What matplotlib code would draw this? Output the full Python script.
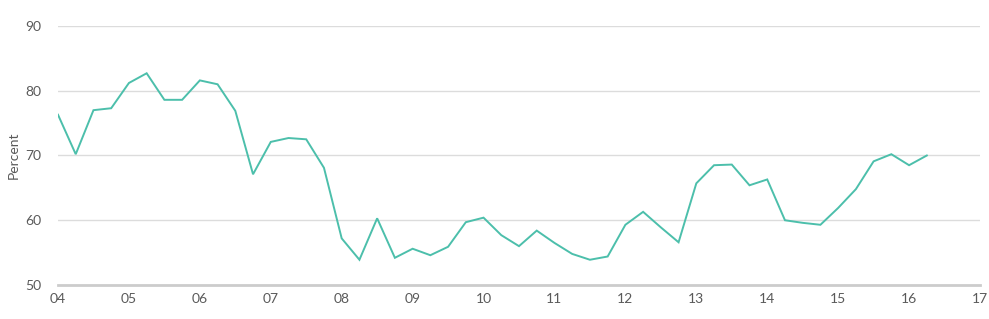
import matplotlib
matplotlib.use("Agg")
import matplotlib.pyplot as plt
import numpy as np

# Quarterly data starting 2004 Q1
start_year = 2004
values = [76.3, 70.2, 77.0, 77.3, 81.2, 82.7, 78.6, 78.6,
          81.6, 81.0, 76.9, 67.1, 72.1, 72.7, 72.5, 68.1,
          57.2, 53.9, 60.3, 54.2, 55.6, 54.6, 55.9, 59.7,
          60.4, 57.7, 56.0, 58.4, 56.5, 54.8, 53.9, 54.4,
          59.3, 61.3, 58.9, 56.6, 65.7, 68.5, 68.6, 65.4,
          66.3, 60.0, 59.6, 59.3, 61.9, 64.8, 69.1, 70.2,
          68.5, 70.0]
x_ticks = list(range(2004, 2018))
x_labels = ["04", "05", "06", "07", "08", "09", "10", "11", "12", "13", "14", "15", "16", "17"]
y_ticks = [50, 60, 70, 80, 90]
y_label = "Percent"

plt.rcParams['font.family'] = ['Lato', 'DejaVu Sans']

W, H = 989, 319
fig = plt.figure(figsize=(W / 100, H / 100), dpi=100)
ax = fig.add_axes([58 / W, 1 - 285 / H, (980 - 58) / W, (285 - 26) / H])

xs = start_year + np.arange(len(values)) * 0.25
ax.plot(xs, values, color="#4cbfab", lw=1.4, solid_joinstyle="miter", zorder=3)

ax.set_xlim(2004, 2017)
ax.set_ylim(50, 90)
ax.set_xticks(x_ticks)
ax.set_xticklabels(x_labels)
ax.set_yticks(y_ticks)
for y in y_ticks:
    if y == 50:
        ax.axhline(y, color="#cccccc", lw=2.0, zorder=1, clip_on=False)
    else:
        ax.axhline(y, color="#dcdcdc", lw=1.0, zorder=1)

for s in ax.spines.values():
    s.set_visible(False)
ax.tick_params(axis="both", length=0, labelsize=10, colors="#5a5a5a")
ax.tick_params(axis="y", pad=12)
ax.tick_params(axis="x", pad=6)
ax.set_ylabel(y_label, fontsize=10, color="#5a5a5a", labelpad=4)

fig.savefig("out.png", dpi=100)
